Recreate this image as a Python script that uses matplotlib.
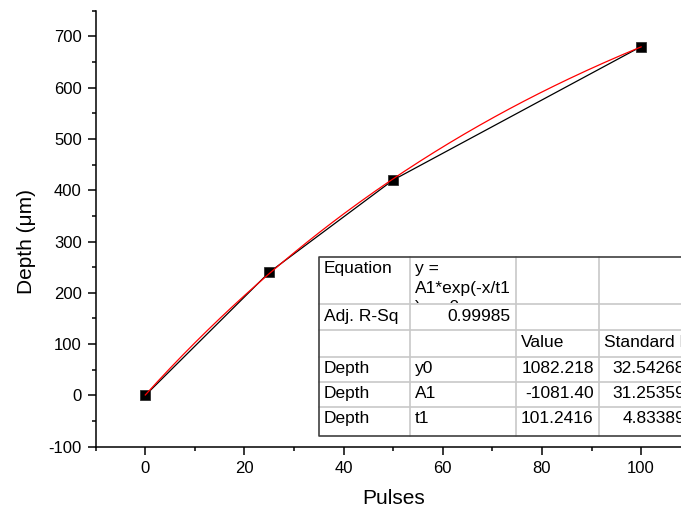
import numpy as np
import matplotlib
matplotlib.use("Agg")
import matplotlib.pyplot as plt
from matplotlib.ticker import MultipleLocator
from matplotlib.transforms import Bbox

plt.rcParams['font.family'] = ['Liberation Sans', 'DejaVu Sans']
plt.rcParams['axes.unicode_minus'] = False

# measured points
pulses = [0, 25, 50, 100]
depth = [0, 240, 420, 680]

# exponential fit: y = A1*exp(-x/t1) + y0
y0 = 1082.218
A1 = -1081.40
t1 = 101.2416

# fit report table (as printed in the figure), equation cell wraps like in Origin
table_rows = [
    ["Equation", "y =\nA1*exp(-x/t1\n) + y0", "", ""],
    ["Adj. R-Sq", "0.99985", "", ""],
    ["", "", "Value", "Standard Error"],
    ["Depth", "y0", "1082.218", "32.54268"],
    ["Depth", "A1", "-1081.40", "31.25359"],
    ["Depth", "t1", "101.2416", "4.83389"],
]
right_aligned = {(1, 1), (3, 2), (3, 3), (4, 2), (4, 3), (5, 2), (5, 3)}

W, H = 681, 518
fig = plt.figure(figsize=(W / 100, H / 100), dpi=100)
ax = fig.add_axes([95.7 / W, 71.3 / H, 595 / W, 436 / H])

ax.plot(pulses, depth, color="black", lw=0.9, marker="s", ms=6.5,
        mfc="black", mec="#303030", mew=0.6, zorder=3)
xfit = np.linspace(0, 100, 200)
ax.plot(xfit, A1 * np.exp(-xfit / t1) + y0, color="red", lw=0.9, zorder=4)

ax.set_xlim(-10, 110)
ax.set_ylim(-100, 750)
ax.xaxis.set_major_locator(MultipleLocator(20))
ax.xaxis.set_minor_locator(MultipleLocator(10))
ax.yaxis.set_major_locator(MultipleLocator(100))
ax.yaxis.set_minor_locator(MultipleLocator(50))
ax.tick_params(which="major", direction="out", length=6, width=1.1, labelsize=12, pad=4)
ax.tick_params(which="minor", direction="out", length=3, width=1.1)
for s in ["top", "right"]:
    ax.spines[s].set_visible(False)
for s in ["left", "bottom"]:
    ax.spines[s].set_linewidth(1.1)
ax.set_xlabel("Pulses", fontsize=15, labelpad=10)
ax.set_ylabel("Depth (μm)", fontsize=15)
ax.yaxis.set_label_coords(-0.10, 0.47)

# table drawn in figure pixel coordinates
tax = fig.add_axes([0, 0, 1, 1], zorder=5)
tax.set_xlim(0, W)
tax.set_ylim(H, 0)
tax.axis("off")
tax.patch.set_alpha(0)

col_x = [319, 410, 515.7, 598.7, 690]
row_y = [256.7, 304, 330, 356.7, 381.7, 406.7, 435.7]

tax.fill_between([col_x[0], col_x[-1]], row_y[0], row_y[-1], color="white", zorder=0)
for x in col_x[1:-1]:
    tax.plot([x, x], [row_y[0], row_y[-1]], color="#c8c8c8", lw=1.2, zorder=1)
for y in row_y[1:-1]:
    tax.plot([col_x[0], col_x[-1]], [y, y], color="#c8c8c8", lw=1.2, zorder=1)
tax.plot([col_x[-1], col_x[0], col_x[0], col_x[-1]],
         [row_y[0], row_y[0], row_y[-1], row_y[-1]], color="#404040", lw=1.2, zorder=2)

for i, row in enumerate(table_rows):
    for j, txt in enumerate(row):
        if not txt:
            continue
        x0, x1 = col_x[j], col_x[j + 1]
        ya, yb = row_y[i], row_y[i + 1]
        if (i, j) in right_aligned:
            tx, ha = x1 - 5, "right"
        else:
            tx, ha = x0 + 5, "left"
        for k, line in enumerate(txt.split("\n")):
            t = tax.text(tx, ya + 16.6 + 19.4 * k, line, ha=ha, va="baseline",
                         fontsize=12.5, zorder=3)
            t.set_clip_box(Bbox.from_extents(x0 + 1, H - yb + 1, x1 - 1, H - ya - 1))
            t.set_clip_on(True)

fig.savefig("out.png", dpi=100)
